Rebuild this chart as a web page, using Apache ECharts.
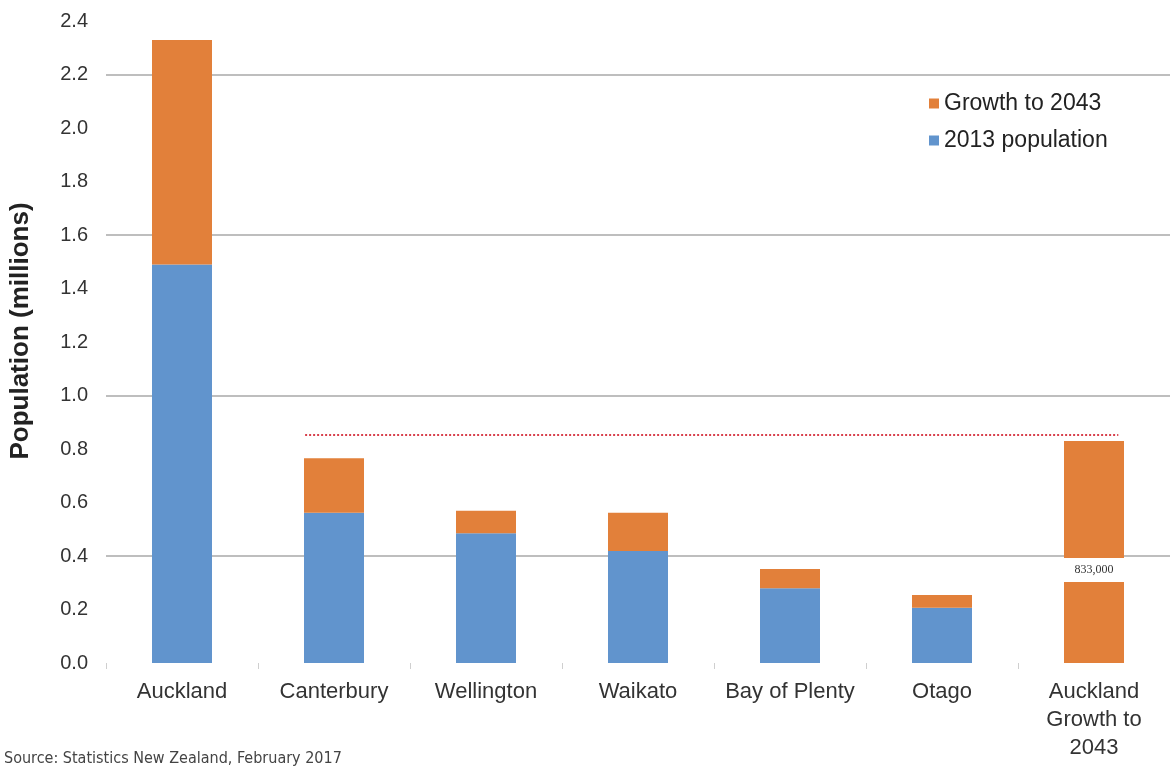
<!DOCTYPE html>
<html>
<head>
<meta charset="utf-8">
<script src="https://cdn.jsdelivr.net/npm/echarts@6/dist/echarts.min.js"></script>
<style>
  html, body { margin: 0; padding: 0; background: #fff; }
  #chart { width: 1170px; height: 769px; }
</style>
</head>
<body>
<div id="chart"></div>
<script>
// regions and values (millions)
const regions = ['Auckland', 'Canterbury', 'Wellington', 'Waikato', 'Bay of Plenty', 'Otago', 'Auckland\nGrowth to\n2043']
const pop2013 = [1.49, 0.562, 0.485, 0.419, 0.279, 0.207, '-']
const growth2043 = [0.839, 0.203, 0.084, 0.143, 0.072, 0.047, 0.83]
const yTicks = [0, 2.4, 0.2]   // min, max, step
const growthNote = '833,000'
// dotted reference line: from Canterbury to Auckland growth, at its height
const refLineX = [0.81, 6.16]
const refLineY = 0.852

const orange = '#e2803a'
const blue = '#6194cd'

const chart = echarts.init(document.getElementById('chart'))

const growthData = growth2043.map(function (v, i) {
  if (i !== growth2043.length - 1) return v
  return {
    value: v,
    label: {
      show: true,
      position: 'insideBottom',
      distance: 81,
      formatter: growthNote,
      fontFamily: 'Liberation Serif',
      fontSize: 12,
      lineHeight: 12,
      color: '#333',
      backgroundColor: '#fff',
      width: 60,
      align: 'center',
      padding: [6, 0]
    }
  }
})

const option = {
  animation: false,
  textStyle: { fontFamily: 'Liberation Sans, Arial, sans-serif' },
  grid: { left: 104, right: -4, top: 21, bottom: 106 },
  legend: {
    data: ['Growth to 2043', '2013 population'],
    orient: 'vertical',
    left: 924,
    top: 87,
    icon: 'rect',
    itemWidth: 10,
    itemHeight: 10,
    itemGap: 14,
    textStyle: { fontSize: 23, lineHeight: 23, color: '#222' }
  },
  xAxis: [
    {
      type: 'category',
      data: regions,
      axisLine: { show: false },
      axisTick: { show: true, length: 6, lineStyle: { color: '#cfcfcf' } },
      axisLabel: { fontSize: 22, color: '#333', margin: 15, lineHeight: 28, interval: 0 }
    },
    {
      type: 'value',
      min: -0.5,
      max: 6.5,
      show: false
    }
  ],
  yAxis: {
    type: 'value',
    min: yTicks[0],
    max: yTicks[1],
    interval: yTicks[2],
    name: 'Population (millions)',
    nameLocation: 'middle',
    nameGap: 72,
    nameTextStyle: { fontSize: 26, fontWeight: 'bold', color: '#222', padding: [0, 0, 0, 22] },
    axisLine: { show: false },
    axisTick: { show: false },
    axisLabel: {
      fontSize: 20,
      color: '#333',
      margin: 18,
      formatter: function (v) { return v.toFixed(1) }
    },
    splitLine: {
      show: true,
      lineStyle: { color: ['rgba(0,0,0,0)', 'rgba(0,0,0,0)', '#a8a8a8'], width: 1.5 }
    }
  },
  series: [
    {
      name: '2013 population',
      type: 'bar',
      stack: 'pop',
      barWidth: 60,
      itemStyle: { color: blue },
      data: pop2013
    },
    {
      name: 'Growth to 2043',
      type: 'bar',
      stack: 'pop',
      barWidth: 60,
      itemStyle: { color: orange },
      data: growthData
    },
    {
      name: 'ref',
      type: 'line',
      xAxisIndex: 1,
      symbol: 'none',
      silent: true,
      z: 5,
      lineStyle: { color: '#d8404c', width: 2, type: [2, 2] },
      data: refLineX.map(function (x) { return [x, refLineY] })
    }
  ],
  graphic: [
    {
      type: 'text',
      left: 4,
      top: 751,
      style: {
        text: 'Source: Statistics New Zealand, February 2017',
        font: '16px "DejaVu Sans Condensed", sans-serif',
        fill: '#444'
      }
    }
  ]
}

chart.setOption(option)
</script>
</body>
</html>
